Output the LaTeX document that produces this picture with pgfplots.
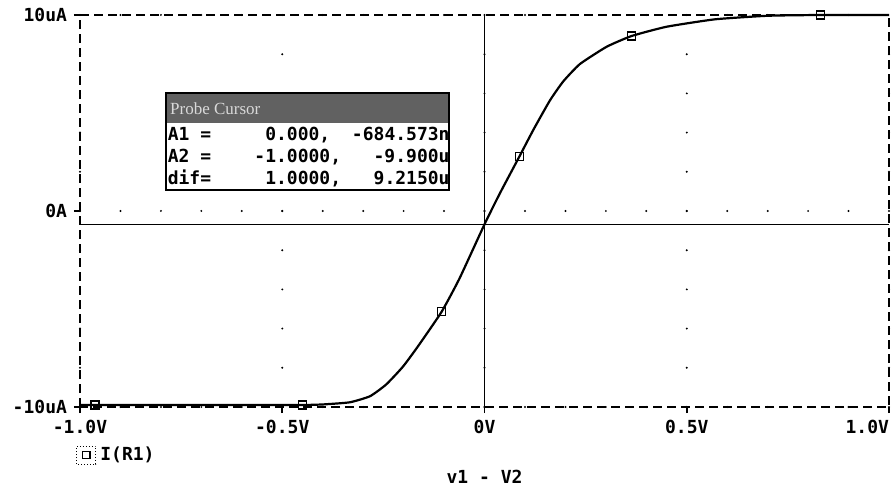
\documentclass[border=0pt]{standalone}
\usepackage{fontspec}
\setmainfont{Liberation Serif}
\setmonofont{DejaVu Sans Mono}
\usepackage{pgfplots}
\pgfplotsset{compat=1.18}

\newcommand{\psfont}{\ttfamily\bfseries\fontsize{9}{10}\selectfont}

\begin{document}
\begin{tikzpicture}
\useasboundingbox (-40pt,-39.5pt) rectangle (406.5pt,203.5pt);
\begin{axis}[
	at={(0,0)}, anchor=south west,
	width=404.5pt, height=196pt, scale only axis,
	xmin=-1, xmax=1, ymin=-10, ymax=10,
	clip=false,
	xtick={-1,-0.5,0,0.5,1},
	xticklabels={-1.0V,-0.5V,0V,0.5V,\makebox[0pt][r]{1.0V}},
	ytick={-10,0,10},
	yticklabels={-10uA,0A,10uA},
	xtick pos=bottom, ytick pos=left,
	tick align=outside,
	major tick length=3pt,
	tick style={black, line width=0.8pt, solid},
	tick label style={font=\psfont},
	axis line style={black, line width=0.8pt, dash pattern=on 4.5pt off 2.5pt},
	xmajorgrids, ymajorgrids,
	x grid style={black, line width=1.1pt, line cap=round, dash pattern=on 0pt off 19.6pt},
	y grid style={black, line width=1.1pt, line cap=round, dash pattern=on 0pt off 20.225pt},
	xlabel={v1 - V2},
	xlabel style={at={(axis description cs:0.5,-0.178)}, anchor=center, font=\psfont},
	legend style={at={(axis description cs:-0.005,-0.09)}, anchor=north west,
		draw=none, fill=none, inner sep=0pt, font=\psfont},
	legend image code/.code={
		\draw[black, densely dotted, line width=0.5pt] (0pt,-4.5pt) rectangle (9.5pt,4.5pt);
		\draw[black, solid, line width=0.6pt] (2.8pt,-1.8pt) rectangle (6.6pt,1.8pt);
	},
]
% cursor lines
\addplot[black, line width=0.7pt, forget plot] coordinates {(-1,-0.6846)(1,-0.6846)};
\addplot[black, line width=0.7pt, forget plot] coordinates {(0,-10)(0,10)};

% I(R1)
\addplot[black, line width=1.1pt, smooth, tension=0.3] coordinates {
	(-1.0,-9.90)(-0.9,-9.90)(-0.8,-9.90)(-0.7,-9.90)(-0.6,-9.90)(-0.5,-9.90)
	(-0.45,-9.90)(-0.40,-9.87)(-0.333,-9.76)(-0.283,-9.45)(-0.243,-8.85)
	(-0.202,-7.95)(-0.165,-6.92)(-0.106,-5.14)(-0.062,-3.45)(0.0,-0.68)
	(0.038,0.90)(0.086,2.77)(0.121,4.15)(0.162,5.65)(0.195,6.62)(0.236,7.50)
	(0.302,8.38)(0.364,8.93)(0.45,9.40)(0.57,9.78)(0.70,9.96)(0.83,10.0)(1.0,10.0)
};
\addlegendentry{I(R1)}
\addplot[only marks, forget plot, mark=square, mark size=2pt,
	mark options={fill=white, line width=0.6pt, solid, black}] coordinates {
	(-0.963,-9.9)(-0.449,-9.9)(-0.106,-5.14)(0.086,2.77)(0.364,8.93)(0.83,10.0)
};

% probe cursor window
\fill[white] (axis cs:-0.787,1.07) rectangle (axis cs:-0.088,4.49);
\fill[black!62] (axis cs:-0.787,4.49) rectangle (axis cs:-0.088,6.02);
\draw[black, line width=0.7pt] (axis cs:-0.787,1.07) rectangle (axis cs:-0.088,6.02);
\node[anchor=west, inner sep=0pt, text=white!85!black, font=\fontsize{8.5}{9}\selectfont]
	at (axis cs:-0.778,5.2) {Probe Cursor};
\node[anchor=west, inner sep=0pt, font=\psfont] at (axis cs:-0.784,3.88)
	{A1~=~~~~~0.000,~~-684.573n};
\node[anchor=west, inner sep=0pt, font=\psfont] at (axis cs:-0.784,2.76)
	{A2~=~~~~-1.0000,~~~-9.900u};
\node[anchor=west, inner sep=0pt, font=\psfont] at (axis cs:-0.784,1.66)
	{dif=~~~~~1.0000,~~~9.2150u};
\end{axis}
\end{tikzpicture}
\end{document}
